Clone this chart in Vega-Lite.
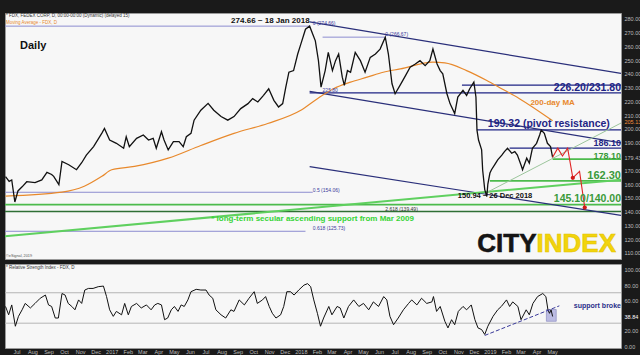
{
  "$schema": "https://vega.github.io/schema/vega-lite/v6.json",
  "background": "#1a1a1a",
  "padding": {"left": 3, "top": 12, "right": 0, "bottom": 0},
  "spacing": 3,
  "config": {
    "view": {"fill": "#f7f7f7", "stroke": "#9a9a9a"},
    "font": "Liberation Sans",
    "text": {"font": "Liberation Sans"}
  },
  "vconcat": [
    {
      "width": 616,
      "height": 246,
      "encoding": {
        "x": {"field": "date", "type": "temporal", "scale": {"domain": [{"year": 2016, "month": 6, "date": 9}, {"year": 2019, "month": 9, "date": 11}]}, "axis": null},
        "y": {"field": "v", "type": "quantitative", "scale": {"domain": [105.6, 284.2], "nice": false, "zero": false},
          "axis": {"orient": "right", "values": [110, 120, 130, 140, 150, 160, 170, 179.43, 190, 200, 205.13, 210, 220, 230, 240, 250, 260, 270, 280],
            "format": ".2f", "labelFontSize": 5.5, "labelColor": {"condition": {"test": "datum.value === 205.13", "value": "#f0903a"}, "value": "#bdbdbd"},
            "domain": false, "ticks": false, "grid": false, "labelPadding": 3, "title": null, "labelOverlap": false}}
      },
      "layer": [
        {
          "data": {"values": [
            {"date": "2016-06-09", "date2": "2018-01-18", "v": 274.66},
            {"date": "2018-02-12", "date2": "2018-06-13", "v": 266.67},
            {"date": "2016-06-09", "date2": "2018-01-24", "v": 154.06},
            {"date": "2016-06-09", "date2": "2018-01-10", "v": 125.73}
          ], "format": {"parse": {"date": "date", "date2": "date"}}},
          "mark": {"type": "rule", "color": "#8c8cd0", "strokeWidth": 1, "clip": true},
          "encoding": {"x2": {"field": "date2"}}
        },
        {
          "data": {"values": [
            {"date": "2018-01-18", "date2": "2019-09-11", "v": 226.2},
            {"date": "2018-11-08", "date2": "2019-09-11", "v": 231.8},
            {"date": "2018-12-07", "date2": "2019-09-11", "v": 199.32},
            {"date": "2019-02-08", "date2": "2019-09-11", "v": 186.1}
          ], "format": {"parse": {"date": "date", "date2": "date"}}},
          "mark": {"type": "rule", "color": "#1f2585", "strokeWidth": 1.4, "clip": true},
          "encoding": {"x2": {"field": "date2"}}
        },
        {
          "data": {"values": [
            {"date": "2019-05-02", "date2": "2019-09-11", "v": 178.1},
            {"date": "2019-01-01", "date2": "2019-09-11", "v": 162.3},
            {"date": "2016-06-09", "date2": "2019-09-11", "v": 145.1}
          ], "format": {"parse": {"date": "date", "date2": "date"}}},
          "mark": {"type": "rule", "color": "#4cbb4c", "strokeWidth": 1.8, "clip": true},
          "encoding": {"x2": {"field": "date2"}}
        },
        {
          "data": {"values": [
            {"date": "2016-06-09", "date2": "2019-09-11", "v": 140.0}
          ], "format": {"parse": {"date": "date", "date2": "date"}}},
          "mark": {"type": "rule", "color": "#2f6f35", "strokeWidth": 1.5, "clip": true},
          "encoding": {"x2": {"field": "date2"}}
        },
        {
          "data": {"values": [
            {"id": "top", "date": "2018-01-18", "v": 277.7},
            {"id": "top", "date": "2019-09-11", "v": 240.3},
            {"id": "mid", "date": "2018-01-18", "v": 227.3},
            {"id": "mid", "date": "2019-09-11", "v": 189.9},
            {"id": "low", "date": "2018-01-18", "v": 172.6},
            {"id": "low", "date": "2019-09-11", "v": 137.3}
          ]},
          "mark": {"type": "line", "color": "#2a2f7a", "strokeWidth": 1.2, "clip": true},
          "encoding": {"detail": {"field": "id"}}
        },
        {
          "data": {"values": [
            {"date": "2016-06-09", "v": 122.2},
            {"date": "2019-09-11", "v": 163.2}
          ]},
          "mark": {"type": "line", "color": "#5fd05f", "strokeWidth": 2, "clip": true},
          "encoding": {}
        },
        {
          "data": {"values": [
            {"date": "2018-12-26", "v": 153.9},
            {"date": "2019-09-11", "v": 204.3}
          ]},
          "mark": {"type": "line", "color": "#9cc59c", "strokeWidth": 1, "clip": true},
          "encoding": {}
        },
        {
          "data": {"values": [
            {"date": "2016-06-10", "v": 151.3}, {"date": "2016-09-27", "v": 154.1}, {"date": "2016-11-09", "v": 158.4},
            {"date": "2016-12-13", "v": 165.6}, {"date": "2017-01-01", "v": 170.4}, {"date": "2017-02-14", "v": 172.8},
            {"date": "2017-04-20", "v": 178.8}, {"date": "2017-06-22", "v": 188.0}, {"date": "2017-08-25", "v": 196.8},
            {"date": "2017-10-29", "v": 204.0}, {"date": "2018-01-01", "v": 213.6}, {"date": "2018-02-02", "v": 222.0},
            {"date": "2018-03-05", "v": 229.2}, {"date": "2018-04-07", "v": 234.0}, {"date": "2018-05-09", "v": 237.6},
            {"date": "2018-06-09", "v": 241.2}, {"date": "2018-07-12", "v": 243.6}, {"date": "2018-09-13", "v": 248.5},
            {"date": "2018-10-06", "v": 248.0}, {"date": "2018-11-17", "v": 242.4}, {"date": "2018-12-26", "v": 235.2},
            {"date": "2019-01-20", "v": 230.0}, {"date": "2019-02-27", "v": 222.0}, {"date": "2019-05-02", "v": 206.0}
          ]},
          "mark": {"type": "line", "color": "#e8892c", "strokeWidth": 1.2, "interpolate": "monotone", "clip": true},
          "encoding": {}
        },
        {
          "data": {"values": [
            {"date": "2016-06-10", "v": 165.4}, {"date": "2016-06-17", "v": 162}, {"date": "2016-06-22", "v": 163},
            {"date": "2016-06-28", "v": 147}, {"date": "2016-07-04", "v": 155}, {"date": "2016-07-12", "v": 158},
            {"date": "2016-07-21", "v": 161.7}, {"date": "2016-08-06", "v": 161}, {"date": "2016-08-19", "v": 163},
            {"date": "2016-08-29", "v": 168.5}, {"date": "2016-09-07", "v": 167}, {"date": "2016-09-11", "v": 165.6},
            {"date": "2016-09-21", "v": 159.6}, {"date": "2016-09-27", "v": 176.4}, {"date": "2016-10-10", "v": 174},
            {"date": "2016-10-25", "v": 170.4}, {"date": "2016-11-04", "v": 175.5}, {"date": "2016-11-13", "v": 181},
            {"date": "2016-11-27", "v": 187.2}, {"date": "2016-12-13", "v": 197}, {"date": "2016-12-18", "v": 200.4},
            {"date": "2016-12-28", "v": 192}, {"date": "2017-01-10", "v": 189.6}, {"date": "2017-01-24", "v": 186},
            {"date": "2017-01-29", "v": 194.4}, {"date": "2017-02-04", "v": 187.2}, {"date": "2017-02-18", "v": 193.2},
            {"date": "2017-03-03", "v": 195.6}, {"date": "2017-03-13", "v": 192}, {"date": "2017-03-22", "v": 193.2},
            {"date": "2017-03-28", "v": 186}, {"date": "2017-04-07", "v": 198}, {"date": "2017-04-12", "v": 192},
            {"date": "2017-04-20", "v": 184.8}, {"date": "2017-04-30", "v": 190.8}, {"date": "2017-05-11", "v": 190.8},
            {"date": "2017-05-19", "v": 187.2}, {"date": "2017-05-25", "v": 194.4}, {"date": "2017-06-03", "v": 196.8},
            {"date": "2017-06-09", "v": 206.4}, {"date": "2017-06-22", "v": 213.6}, {"date": "2017-07-06", "v": 218.6},
            {"date": "2017-07-17", "v": 213.6}, {"date": "2017-07-31", "v": 209}, {"date": "2017-08-13", "v": 206.4},
            {"date": "2017-08-25", "v": 209}, {"date": "2017-09-07", "v": 214.8}, {"date": "2017-09-21", "v": 218.4},
            {"date": "2017-09-30", "v": 222}, {"date": "2017-10-10", "v": 219.6}, {"date": "2017-10-21", "v": 224.4},
            {"date": "2017-10-31", "v": 229.2}, {"date": "2017-11-10", "v": 220.8}, {"date": "2017-11-19", "v": 216},
            {"date": "2017-11-27", "v": 218.4}, {"date": "2017-12-03", "v": 230.4}, {"date": "2017-12-09", "v": 241.2},
            {"date": "2017-12-18", "v": 242.4}, {"date": "2017-12-26", "v": 254.4}, {"date": "2018-01-01", "v": 261.6},
            {"date": "2018-01-10", "v": 272.4}, {"date": "2018-01-18", "v": 274.66}, {"date": "2018-01-29", "v": 264},
            {"date": "2018-02-04", "v": 249.6}, {"date": "2018-02-09", "v": 230.4}, {"date": "2018-02-17", "v": 242.4},
            {"date": "2018-02-23", "v": 255.6}, {"date": "2018-03-03", "v": 242.4}, {"date": "2018-03-09", "v": 249.6},
            {"date": "2018-03-15", "v": 254.4}, {"date": "2018-03-22", "v": 237.6}, {"date": "2018-03-26", "v": 231.6},
            {"date": "2018-04-01", "v": 242.4}, {"date": "2018-04-07", "v": 241.2}, {"date": "2018-04-16", "v": 255.6},
            {"date": "2018-04-26", "v": 249.6}, {"date": "2018-05-05", "v": 241.2}, {"date": "2018-05-15", "v": 252},
            {"date": "2018-05-25", "v": 254.4}, {"date": "2018-06-03", "v": 258}, {"date": "2018-06-13", "v": 266.67},
            {"date": "2018-06-19", "v": 254.4}, {"date": "2018-06-26", "v": 232.8}, {"date": "2018-07-02", "v": 225.6},
            {"date": "2018-07-12", "v": 232}, {"date": "2018-07-21", "v": 238}, {"date": "2018-07-31", "v": 244.8},
            {"date": "2018-08-10", "v": 247.2}, {"date": "2018-08-19", "v": 249.6}, {"date": "2018-08-29", "v": 246},
            {"date": "2018-09-07", "v": 249.6}, {"date": "2018-09-13", "v": 258}, {"date": "2018-09-21", "v": 247.2},
            {"date": "2018-09-27", "v": 242.4}, {"date": "2018-10-02", "v": 240}, {"date": "2018-10-10", "v": 225.6},
            {"date": "2018-10-16", "v": 218.4}, {"date": "2018-10-25", "v": 211.2}, {"date": "2018-10-31", "v": 223.2},
            {"date": "2018-11-10", "v": 228}, {"date": "2018-11-17", "v": 224.4}, {"date": "2018-11-23", "v": 229.2},
            {"date": "2018-12-01", "v": 234}, {"date": "2018-12-05", "v": 223.2}, {"date": "2018-12-07", "v": 199.2},
            {"date": "2018-12-10", "v": 192}, {"date": "2018-12-16", "v": 184.8}, {"date": "2018-12-18", "v": 170},
            {"date": "2018-12-22", "v": 156}, {"date": "2018-12-26", "v": 150.94}, {"date": "2018-12-28", "v": 160},
            {"date": "2019-01-01", "v": 168}, {"date": "2019-01-04", "v": 170.4}, {"date": "2019-01-10", "v": 174},
            {"date": "2019-01-16", "v": 177.6}, {"date": "2019-01-24", "v": 181}, {"date": "2019-01-29", "v": 183.6},
            {"date": "2019-02-04", "v": 186}, {"date": "2019-02-12", "v": 182.4}, {"date": "2019-02-18", "v": 183.6},
            {"date": "2019-02-23", "v": 181}, {"date": "2019-03-03", "v": 172.8}, {"date": "2019-03-05", "v": 170.4},
            {"date": "2019-03-13", "v": 178.8}, {"date": "2019-03-18", "v": 175.2}, {"date": "2019-03-24", "v": 186},
            {"date": "2019-04-01", "v": 189.6}, {"date": "2019-04-07", "v": 195.6}, {"date": "2019-04-10", "v": 199.2},
            {"date": "2019-04-16", "v": 196.8}, {"date": "2019-04-22", "v": 189.6}, {"date": "2019-04-28", "v": 187.2},
            {"date": "2019-05-02", "v": 179.43}
          ]},
          "mark": {"type": "line", "color": "#111111", "strokeWidth": 1.3, "clip": true},
          "encoding": {}
        },
        {
          "data": {"values": [
            {"date": "2019-05-02", "v": 179.43}, {"date": "2019-05-12", "v": 186.1}, {"date": "2019-05-21", "v": 180.4},
            {"date": "2019-05-31", "v": 186.1}, {"date": "2019-06-10", "v": 164.5}, {"date": "2019-06-23", "v": 169.2},
            {"date": "2019-07-03", "v": 142.9}
          ]},
          "mark": {"type": "line", "color": "#e02424", "strokeWidth": 1.1, "clip": true},
          "encoding": {}
        },
        {
          "data": {"values": [
            {"date": "2019-06-10", "v": 164.5}, {"date": "2019-07-03", "v": 142.9}
          ]},
          "mark": {"type": "point", "filled": true, "color": "#d01818", "size": 18, "opacity": 1, "clip": true},
          "encoding": {}
        },
        {
          "data": {"values": [{"date": "2016-07-08", "v": 260.4, "t": "Daily"}]},
          "mark": {"type": "text", "align": "left", "baseline": "middle", "fontSize": 11, "fontWeight": "bold", "color": "#111"},
          "encoding": {"text": {"field": "t"}}
        },
        {
          "data": {"values": [
            {"date": "2016-06-11", "v": 282.0, "t": "* FDX, FEDEX CORP, D, 00:00-00:00 (Dynamic) (delayed 15)"}
          ]},
          "mark": {"type": "text", "align": "left", "baseline": "middle", "fontSize": 4.5, "color": "#333"},
          "encoding": {"text": {"field": "t"}}
        },
        {
          "data": {"values": [{"date": "2016-06-11", "v": 277.3, "t": "Moving Average - FDX, D"}]},
          "mark": {"type": "text", "align": "left", "baseline": "middle", "fontSize": 4.5, "color": "#e8892c"},
          "encoding": {"text": {"field": "t"}}
        },
        {
          "data": {"values": [{"date": "2016-06-11", "v": 107.8, "t": "©eSignal, 2019"}]},
          "mark": {"type": "text", "align": "left", "baseline": "middle", "fontSize": 3.8, "color": "#555"},
          "encoding": {"text": {"field": "t"}}
        },
        {
          "data": {"values": [{"date": "2018-01-18", "v": 278.4, "t": "274.66 ~ 18 Jan 2018"}]},
          "mark": {"type": "text", "align": "right", "baseline": "middle", "fontSize": 8, "fontWeight": "bold", "color": "#111"},
          "encoding": {"text": {"field": "t"}}
        },
        {
          "data": {"values": [
            {"date": "2018-01-24", "v": 277.2, "t": "0 (274.66)"},
            {"date": "2018-06-13", "v": 269.1, "t": "0 (266.67)"},
            {"date": "2018-02-12", "v": 228.0, "t": "225.80"},
            {"date": "2018-01-24", "v": 156.0, "t": "0.5 (154.06)"},
            {"date": "2018-01-24", "v": 128.0, "t": "0.618 (125.73)"}
          ]},
          "mark": {"type": "text", "align": "left", "baseline": "middle", "fontSize": 5, "color": "#3c3c9c", "clip": true},
          "encoding": {"text": {"field": "t"}}
        },
        {
          "data": {"values": [{"date": "2018-06-13", "v": 141.6, "t": "2.618 (139.49)"}]},
          "mark": {"type": "text", "align": "left", "baseline": "middle", "fontSize": 5, "color": "#333"},
          "encoding": {"text": {"field": "t"}}
        },
        {
          "data": {"values": [
            {"date": "2019-09-11", "v": 229.4, "t": "226.20/231.80"}
          ]},
          "mark": {"type": "text", "align": "right", "baseline": "middle", "fontSize": 10.5, "fontWeight": "bold", "color": "#1f2585", "clip": true},
          "encoding": {"text": {"field": "t"}}
        },
        {
          "data": {"values": [{"date": "2018-12-28", "v": 203.5, "t": "199.32 (pivot resistance)"}]},
          "mark": {"type": "text", "align": "left", "baseline": "middle", "fontSize": 10.5, "fontWeight": "bold", "color": "#1f2585", "clip": true},
          "encoding": {"text": {"field": "t"}}
        },
        {
          "data": {"values": [{"date": "2019-09-11", "v": 189.9, "t": "186.10"}]},
          "mark": {"type": "text", "align": "right", "baseline": "middle", "fontSize": 9, "fontWeight": "bold", "color": "#1f2585", "clip": true},
          "encoding": {"text": {"field": "t"}}
        },
        {
          "data": {"values": [{"date": "2019-09-11", "v": 180.7, "t": "178.10"}]},
          "mark": {"type": "text", "align": "right", "baseline": "middle", "fontSize": 9, "fontWeight": "bold", "color": "#3a9a3a", "clip": true},
          "encoding": {"text": {"field": "t"}}
        },
        {
          "data": {"values": [{"date": "2019-09-11", "v": 165.6, "t": "162.30"}]},
          "mark": {"type": "text", "align": "right", "baseline": "middle", "fontSize": 11, "fontWeight": "bold", "color": "#3a9a3a", "clip": true},
          "encoding": {"text": {"field": "t"}}
        },
        {
          "data": {"values": [{"date": "2019-09-11", "v": 148.8, "t": "145.10/140.00"}]},
          "mark": {"type": "text", "align": "right", "baseline": "middle", "fontSize": 10.5, "fontWeight": "bold", "color": "#3a9a3a", "clip": true},
          "encoding": {"text": {"field": "t"}}
        },
        {
          "data": {"values": [{"date": "2019-05-02", "v": 218.7, "t": "200-day MA"}]},
          "mark": {"type": "text", "align": "center", "baseline": "middle", "fontSize": 8, "fontWeight": "bold", "color": "#e8892c"},
          "encoding": {"text": {"field": "t"}}
        },
        {
          "data": {"values": [{"date": "2018-10-31", "v": 151.0, "t": "150.94 ~ 26 Dec 2018"}]},
          "mark": {"type": "text", "align": "left", "baseline": "middle", "fontSize": 7.5, "fontWeight": "bold", "color": "#111"},
          "encoding": {"text": {"field": "t"}}
        },
        {
          "data": {"values": [{"date": "2017-07-12", "v": 134.8, "t": "* long-term secular ascending support from Mar 2009"}]},
          "mark": {"type": "text", "align": "left", "baseline": "middle", "fontSize": 8, "fontWeight": "bold", "color": "#35d435"},
          "encoding": {"text": {"field": "t"}}
        },
        {
          "data": {"values": [{"date": "2019-04-01", "v": 110.5, "t": "CITY"}]},
          "mark": {"type": "text", "align": "right", "baseline": "alphabetic", "fontSize": 26, "fontWeight": "bold", "font": "Liberation Sans", "color": "#151515", "stroke": "#151515", "strokeWidth": 0.6},
          "encoding": {"text": {"field": "t"}}
        },
        {
          "data": {"values": [{"date": "2019-04-01", "v": 110.5, "t": "INDEX"}]},
          "mark": {"type": "text", "align": "left", "baseline": "alphabetic", "fontSize": 26, "fontWeight": "bold", "font": "Liberation Sans", "color": "#f2d40c", "stroke": "#e3c300", "strokeWidth": 0.6, "clip": true},
          "encoding": {"text": {"field": "t"}}
        }
      ]
    },
    {
      "width": 616,
      "height": 84,
      "encoding": {
        "x": {"field": "date", "type": "temporal", "scale": {"domain": [{"year": 2016, "month": 6, "date": 9}, {"year": 2019, "month": 9, "date": 11}]},
          "axis": {"orient": "bottom", "tickCount": {"interval": "month", "step": 1},
            "labelExpr": "datum.value > datetime(2019, 4, 20) ? '' : (month(datum.value) == 0 ? timeFormat(datum.value, '%Y') : timeFormat(datum.value, '%b'))",
            "labelFontSize": 5.5, "labelColor": "#bdbdbd", "domain": false, "ticks": false, "grid": false,
            "labelPadding": 1, "title": null, "labelOverlap": false, "labelFlush": false}},
        "y": {"field": "r", "type": "quantitative", "scale": {"domain": [-2.6, 107.8], "nice": false, "zero": false},
          "axis": {"orient": "right", "values": [0, 20, 38.84, 60, 80, 100], "format": ".2f", "labelFontSize": 5.5,
            "labelColor": {"condition": {"test": "datum.value === 38.84", "value": "#ffffff"}, "value": "#bdbdbd"},
            "domain": false, "ticks": false, "grid": false, "labelPadding": 3, "title": null, "labelOverlap": false}}
      },
      "layer": [
        {
          "data": {"values": [
            {"date": "2016-06-09", "date2": "2019-09-11", "r": 70},
            {"date": "2016-06-09", "date2": "2019-09-11", "r": 30}
          ], "format": {"parse": {"date": "date", "date2": "date"}}},
          "mark": {"type": "rule", "color": "#b5b5b5", "strokeWidth": 1},
          "encoding": {"x2": {"field": "date2"}}
        },
        {
          "data": {"values": [
            {"date": "2019-04-20", "date2": "2019-05-09", "r": 48, "r2": 32.5}
          ], "format": {"parse": {"date": "date", "date2": "date"}}},
          "mark": {"type": "rect", "color": "#a9a9dd", "opacity": 0.75, "stroke": "#5a5aa8", "strokeWidth": 0.6},
          "encoding": {"x2": {"field": "date2"}, "y2": {"field": "r2"}}
        },
        {
          "data": {"values": [
            {"date": "2016-06-10", "r": 52}, {"date": "2016-06-16", "r": 41}, {"date": "2016-06-22", "r": 54},
            {"date": "2016-06-29", "r": 26}, {"date": "2016-07-05", "r": 39}, {"date": "2016-07-12", "r": 47.6},
            {"date": "2016-07-18", "r": 56}, {"date": "2016-07-28", "r": 50}, {"date": "2016-08-06", "r": 56},
            {"date": "2016-08-16", "r": 62.8}, {"date": "2016-08-26", "r": 67}, {"date": "2016-09-01", "r": 54},
            {"date": "2016-09-07", "r": 52}, {"date": "2016-09-14", "r": 36.8}, {"date": "2016-09-20", "r": 36.8},
            {"date": "2016-09-27", "r": 69}, {"date": "2016-10-03", "r": 67}, {"date": "2016-10-09", "r": 56},
            {"date": "2016-10-16", "r": 52}, {"date": "2016-10-22", "r": 47.6}, {"date": "2016-10-29", "r": 60.6},
            {"date": "2016-11-04", "r": 56}, {"date": "2016-11-10", "r": 73.6}, {"date": "2016-11-17", "r": 75.7},
            {"date": "2016-11-26", "r": 75.7}, {"date": "2016-12-06", "r": 78}, {"date": "2016-12-16", "r": 78.8},
            {"date": "2016-12-22", "r": 65}, {"date": "2016-12-28", "r": 47.6}, {"date": "2017-01-04", "r": 39},
            {"date": "2017-01-10", "r": 45.5}, {"date": "2017-01-20", "r": 41}, {"date": "2017-01-26", "r": 56},
            {"date": "2017-02-02", "r": 41}, {"date": "2017-02-08", "r": 52}, {"date": "2017-02-18", "r": 56},
            {"date": "2017-02-27", "r": 50}, {"date": "2017-03-09", "r": 54}, {"date": "2017-03-18", "r": 47.6},
            {"date": "2017-03-25", "r": 54}, {"date": "2017-03-31", "r": 56}, {"date": "2017-04-07", "r": 54},
            {"date": "2017-04-13", "r": 34.6}, {"date": "2017-04-19", "r": 36.8}, {"date": "2017-04-26", "r": 47.6},
            {"date": "2017-05-02", "r": 52}, {"date": "2017-05-09", "r": 45.5}, {"date": "2017-05-15", "r": 54},
            {"date": "2017-05-21", "r": 52}, {"date": "2017-05-28", "r": 60.6}, {"date": "2017-06-03", "r": 71.4},
            {"date": "2017-06-13", "r": 74.5}, {"date": "2017-06-22", "r": 73.6}, {"date": "2017-07-02", "r": 73.6},
            {"date": "2017-07-08", "r": 67}, {"date": "2017-07-15", "r": 62.8}, {"date": "2017-07-21", "r": 47.6},
            {"date": "2017-07-31", "r": 41}, {"date": "2017-08-09", "r": 36.8}, {"date": "2017-08-19", "r": 47.6},
            {"date": "2017-08-25", "r": 45.5}, {"date": "2017-09-04", "r": 60.6}, {"date": "2017-09-14", "r": 54},
            {"date": "2017-09-23", "r": 62.8}, {"date": "2017-10-03", "r": 71.4}, {"date": "2017-10-09", "r": 56},
            {"date": "2017-10-19", "r": 60.6}, {"date": "2017-10-25", "r": 65}, {"date": "2017-11-01", "r": 52},
            {"date": "2017-11-07", "r": 43}, {"date": "2017-11-14", "r": 36.8}, {"date": "2017-11-23", "r": 41},
            {"date": "2017-11-29", "r": 52}, {"date": "2017-12-05", "r": 71.4}, {"date": "2017-12-12", "r": 71.4},
            {"date": "2017-12-19", "r": 67}, {"date": "2017-12-28", "r": 73.6}, {"date": "2018-01-07", "r": 80},
            {"date": "2018-01-14", "r": 82}, {"date": "2018-01-20", "r": 78}, {"date": "2018-01-26", "r": 60.6},
            {"date": "2018-02-02", "r": 43}, {"date": "2018-02-08", "r": 26}, {"date": "2018-02-14", "r": 36.8},
            {"date": "2018-02-24", "r": 52}, {"date": "2018-03-02", "r": 41}, {"date": "2018-03-12", "r": 52},
            {"date": "2018-03-18", "r": 50}, {"date": "2018-03-25", "r": 36.8}, {"date": "2018-04-03", "r": 52},
            {"date": "2018-04-13", "r": 60.6}, {"date": "2018-04-23", "r": 52}, {"date": "2018-05-02", "r": 56},
            {"date": "2018-05-12", "r": 47.6}, {"date": "2018-05-21", "r": 58}, {"date": "2018-05-31", "r": 52},
            {"date": "2018-06-10", "r": 65}, {"date": "2018-06-16", "r": 60.6}, {"date": "2018-06-22", "r": 39},
            {"date": "2018-06-29", "r": 28}, {"date": "2018-07-08", "r": 36.8}, {"date": "2018-07-18", "r": 47.6},
            {"date": "2018-07-28", "r": 56}, {"date": "2018-08-03", "r": 60.6}, {"date": "2018-08-13", "r": 54},
            {"date": "2018-08-22", "r": 62.8}, {"date": "2018-09-01", "r": 56}, {"date": "2018-09-11", "r": 58},
            {"date": "2018-09-14", "r": 65}, {"date": "2018-09-20", "r": 45.5}, {"date": "2018-09-27", "r": 52},
            {"date": "2018-10-06", "r": 32.5}, {"date": "2018-10-12", "r": 23.8}, {"date": "2018-10-19", "r": 34.6},
            {"date": "2018-10-25", "r": 28}, {"date": "2018-11-01", "r": 45.5}, {"date": "2018-11-10", "r": 52},
            {"date": "2018-11-17", "r": 47.6}, {"date": "2018-11-26", "r": 54}, {"date": "2018-12-03", "r": 34.6},
            {"date": "2018-12-09", "r": 23.8}, {"date": "2018-12-16", "r": 21.6}, {"date": "2018-12-22", "r": 15.2},
            {"date": "2018-12-28", "r": 26}, {"date": "2019-01-07", "r": 39}, {"date": "2019-01-16", "r": 47.6},
            {"date": "2019-01-23", "r": 52}, {"date": "2019-02-02", "r": 60.6}, {"date": "2019-02-08", "r": 52},
            {"date": "2019-02-14", "r": 58}, {"date": "2019-02-24", "r": 52}, {"date": "2019-03-02", "r": 34.6},
            {"date": "2019-03-12", "r": 47.6}, {"date": "2019-03-18", "r": 41}, {"date": "2019-03-25", "r": 56},
            {"date": "2019-04-03", "r": 65}, {"date": "2019-04-13", "r": 69}, {"date": "2019-04-19", "r": 65},
            {"date": "2019-04-23", "r": 47.6}, {"date": "2019-04-26", "r": 43}, {"date": "2019-04-29", "r": 47.6},
            {"date": "2019-05-02", "r": 38.84}
          ]},
          "mark": {"type": "line", "color": "#111111", "strokeWidth": 1},
          "encoding": {}
        },
        {
          "data": {"values": [
            {"date": "2018-12-22", "r": 13.9}, {"date": "2019-05-15", "r": 52.8}
          ]},
          "mark": {"type": "line", "color": "#3a3a9a", "strokeWidth": 1, "strokeDash": [4, 2]},
          "encoding": {}
        },
        {
          "data": {"values": [{"date": "2016-06-11", "r": 103.2, "t": "* Relative Strength Index - FDX, D"}]},
          "mark": {"type": "text", "align": "left", "baseline": "middle", "fontSize": 4.5, "color": "#333"},
          "encoding": {"text": {"field": "t"}}
        },
        {
          "data": {"values": [{"date": "2019-06-12", "r": 53.2, "t": "support broke"}]},
          "mark": {"type": "text", "align": "left", "baseline": "middle", "fontSize": 7, "fontWeight": "bold", "color": "#2a2f8a", "clip": true},
          "encoding": {"text": {"field": "t"}}
        }
      ]
    }
  ]
}
